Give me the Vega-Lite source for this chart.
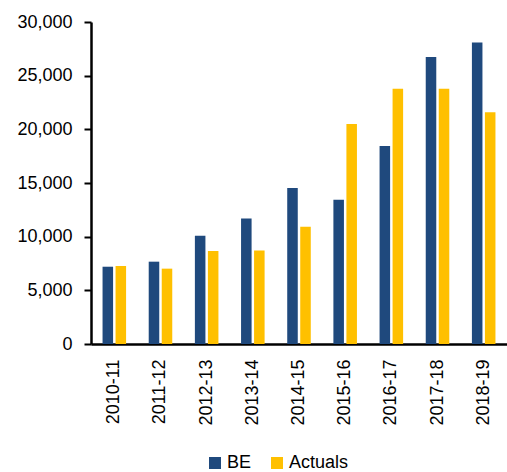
{
  "$schema": "https://vega.github.io/schema/vega-lite/v6.json",
  "autosize": "none",
  "width": 416,
  "height": 322,
  "padding": {"left": 91, "top": 22, "right": 0, "bottom": 128},
  "background": "white",
  "data": {
    "values": [
      {"year": "2010-11", "series": "BE", "value": 7200},
      {"year": "2010-11", "series": "Actuals", "value": 7270},
      {"year": "2011-12", "series": "BE", "value": 7670},
      {"year": "2011-12", "series": "Actuals", "value": 7020},
      {"year": "2012-13", "series": "BE", "value": 10090},
      {"year": "2012-13", "series": "Actuals", "value": 8660},
      {"year": "2013-14", "series": "BE", "value": 11700},
      {"year": "2013-14", "series": "Actuals", "value": 8700},
      {"year": "2014-15", "series": "BE", "value": 14540},
      {"year": "2014-15", "series": "Actuals", "value": 10930},
      {"year": "2015-16", "series": "BE", "value": 13450},
      {"year": "2015-16", "series": "Actuals", "value": 20500},
      {"year": "2016-17", "series": "BE", "value": 18450},
      {"year": "2016-17", "series": "Actuals", "value": 23790},
      {"year": "2017-18", "series": "BE", "value": 26750},
      {"year": "2017-18", "series": "Actuals", "value": 23790},
      {"year": "2018-19", "series": "BE", "value": 28080},
      {"year": "2018-19", "series": "Actuals", "value": 21580}
    ]
  },
  "mark": {"type": "bar"},
  "encoding": {
    "x": {
      "field": "year",
      "type": "nominal",
      "sort": null,
      "scale": {"paddingInner": 0.49, "paddingOuter": 0.25},
      "axis": {
        "title": null,
        "labelAngle": -90,
        "labelFont": "Liberation Sans",
        "labelFontSize": 18,
        "labelColor": "#000000",
        "labelPadding": 15,
        "ticks": false,
        "domainColor": "#000000",
        "domainWidth": 2.7
      }
    },
    "xOffset": {
      "field": "series",
      "type": "nominal",
      "sort": ["BE", "Actuals"],
      "scale": {"paddingInner": 0.19, "paddingOuter": 0}
    },
    "y": {
      "field": "value",
      "type": "quantitative",
      "scale": {"domain": [0, 30000], "nice": false},
      "axis": {
        "title": null,
        "values": [0, 5000, 10000, 15000, 20000, 25000, 30000],
        "format": ",d",
        "grid": false,
        "labelFont": "Liberation Sans",
        "labelFontSize": 18,
        "labelColor": "#000000",
        "labelPadding": 12,
        "tickSize": 7,
        "tickColor": "#000000",
        "tickWidth": 2,
        "domainColor": "#000000",
        "domainWidth": 2.5
      }
    },
    "color": {
      "field": "series",
      "type": "nominal",
      "sort": ["BE", "Actuals"],
      "scale": {"domain": ["BE", "Actuals"], "range": ["#1F497D", "#FFC000"]},
      "legend": {
        "title": null,
        "orient": "none",
        "direction": "horizontal",
        "legendX": 115,
        "legendY": 432,
        "symbolType": "square",
        "symbolSize": 144,
        "symbolStrokeWidth": 0,
        "labelFont": "Liberation Sans",
        "labelFontSize": 18,
        "labelColor": "#000000",
        "labelOffset": 3,
        "columnPadding": 16
      }
    }
  },
  "config": {"view": {"stroke": null}}
}
